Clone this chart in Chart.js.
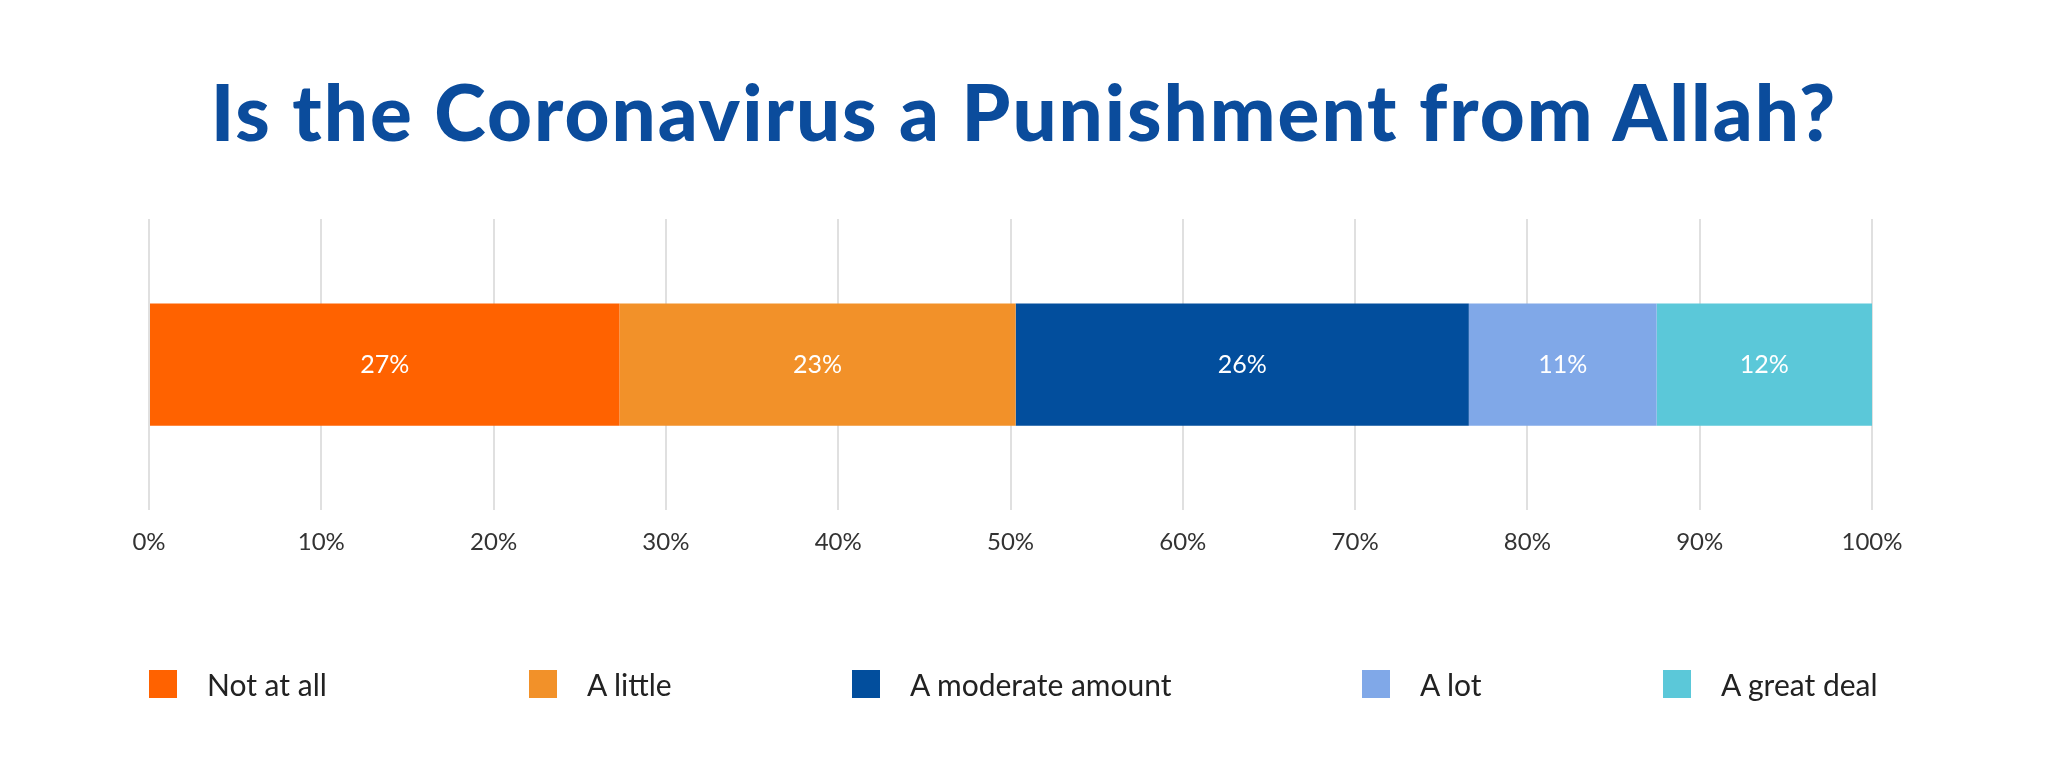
<!DOCTYPE html>
<html><head><meta charset="utf-8">
<script src="https://cdn.jsdelivr.net/npm/chart.js@4"></script>
<style>
html,body{margin:0;padding:0;background:#fff;width:2048px;height:762px;overflow:hidden;font-family:"Lato","Open Sans",sans-serif;}
#wrap{position:relative;width:2048px;height:762px;}
h1{position:absolute;top:64px;left:0;width:2048px;margin:0;text-align:center;font-family:"Lato",sans-serif;font-weight:900;font-size:78px;color:#0B4C9C;letter-spacing:2px;}
.leg{position:absolute;top:666px;font-size:30px;color:#222;display:flex;align-items:center;white-space:nowrap;}
.leg span{display:inline-block;width:28px;height:28px;margin-right:30px;}
canvas{position:absolute;left:0;top:0;}
</style></head><body>
<div id="wrap">
<h1>Is the Coronavirus a Punishment from Allah?</h1>
<canvas id="c" width="2048" height="762"></canvas>
<div id="legend"></div>
</div>
<script>
const categories = ["Not at all","A little","A moderate amount","A lot","A great deal"];
const values = [27.3, 23.0, 26.3, 10.9, 12.5];
const valueLabels = ["27%","23%","26%","11%","12%"];
const colors = ["#FF6200","#F29129","#024E9D","#80A8E8","#5BC8D9"];
const tickLabels = ["0%","10%","20%","30%","40%","50%","60%","70%","80%","90%","100%"];
const legendX = [149, 529, 852, 1362, 1663];

const lg = document.getElementById('legend');
categories.forEach((c,i)=>{
  const d=document.createElement('div');d.className='leg';d.style.left=legendX[i]+'px';
  d.innerHTML='<span style="background:'+colors[i]+'"></span>'+c;lg.appendChild(d);
});

const labelPlugin={id:'lbl',afterDatasetsDraw(chart){
  const ctx=chart.ctx;ctx.save();ctx.fillStyle='#fff';ctx.font='25px Lato, sans-serif';
  ctx.textAlign='center';ctx.textBaseline='middle';
  chart.data.datasets.forEach((ds,i)=>{
    const el=chart.getDatasetMeta(i).data[0];
    ctx.fillText(valueLabels[i],(el.x+el.base)/2,el.y);
  });ctx.restore();}};

new Chart(document.getElementById('c'),{
  type:'bar',
  data:{labels:[''],datasets:categories.map((c,i)=>({label:c,data:[values[i]],backgroundColor:colors[i],barPercentage:0.42,categoryPercentage:1}))},
  options:{indexAxis:'y',responsive:false,animation:false,
    layout:{padding:{left:149,right:176,top:219,bottom:187}},
    plugins:{legend:{display:false},tooltip:{enabled:false}},
    scales:{
      x:{stacked:true,min:0,max:100,
        grid:{color:'#e0e0e0',lineWidth:2,drawTicks:false},border:{display:false},
        ticks:{stepSize:10,padding:18,color:'#333',font:{size:24,family:'Lato'},callback:(v,i)=>tickLabels[i]}},
      y:{stacked:true,display:false}
    }},
  plugins:[labelPlugin]
});
</script></body></html>
